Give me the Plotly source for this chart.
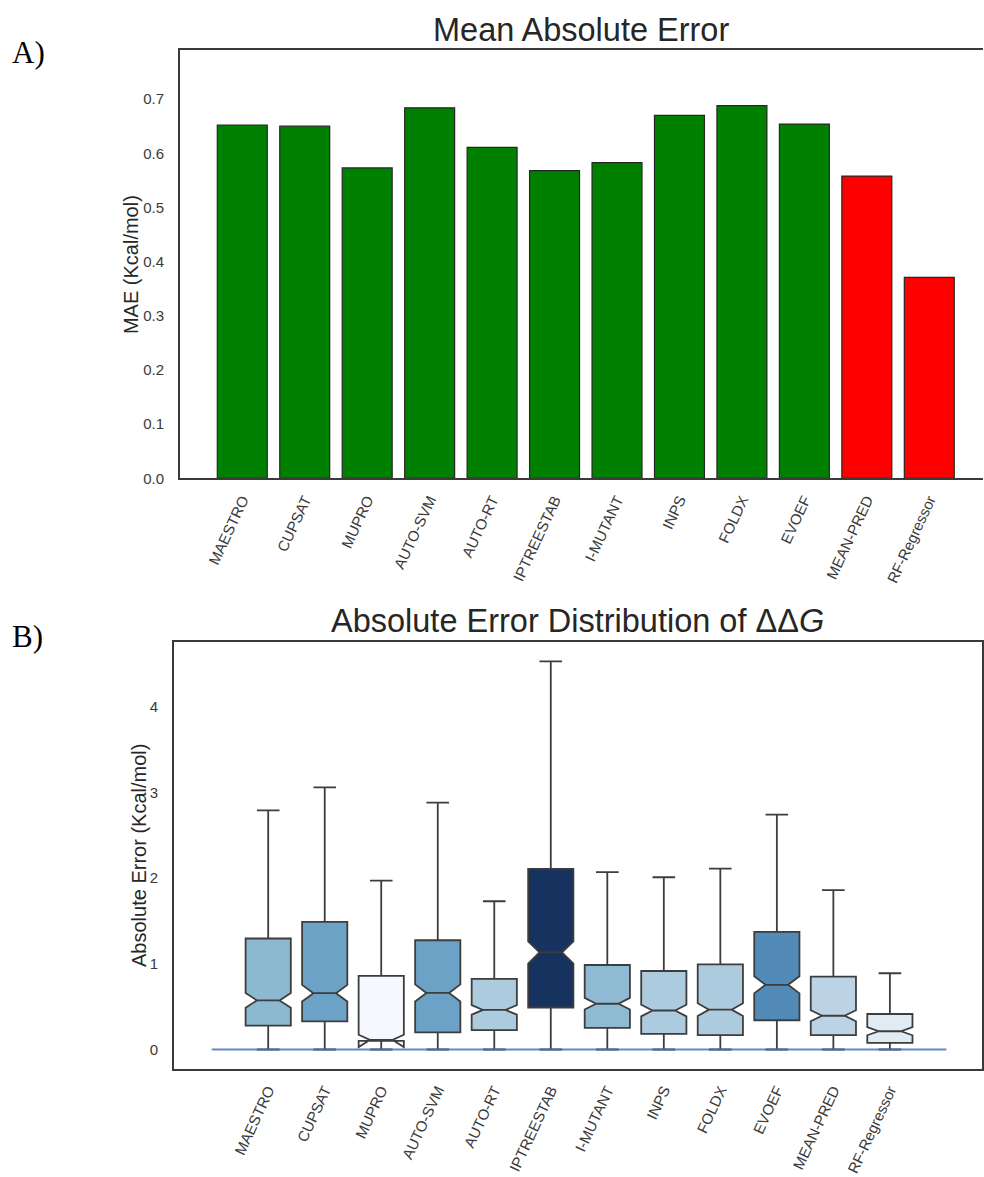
import plotly.graph_objects as go

# ---------------- data ----------------
methods = ["MAESTRO", "CUPSAT", "MUPRO", "AUTO-SVM", "AUTO-RT", "IPTREESTAB",
           "I-MUTANT", "INPS", "FOLDX", "EVOEF", "MEAN-PRED", "RF-Regressor"]

# Panel A: mean absolute error
mae = [0.652, 0.650, 0.573, 0.684, 0.611, 0.568, 0.583, 0.670, 0.688, 0.654, 0.558, 0.371]
bar_colors = ["#008000"] * 10 + ["#ff0000"] * 2

# Panel B: absolute error distribution (box statistics)
q1 = [0.279, 0.329, 0.100, 0.200, 0.225, 0.490, 0.252, 0.182, 0.167, 0.341, 0.167, 0.078]
median = [0.573, 0.657, 0.100, 0.660, 0.462, 1.133, 0.534, 0.455, 0.465, 0.755, 0.394, 0.213]
q3 = [1.295, 1.489, 0.858, 1.275, 0.823, 2.107, 0.986, 0.916, 0.994, 1.373, 0.851, 0.414]
upper_whisker = [2.79, 3.06, 1.97, 2.88, 1.73, 4.53, 2.07, 2.01, 2.11, 2.74, 1.86, 0.89]
lower_whisker = [0.0] * 12
notch_half = [0.087, 0.097, 0.072, 0.100, 0.055, 0.130, 0.068, 0.068, 0.074, 0.100, 0.064, 0.047]
box_colors = ["#8db8d2", "#6ca2c6", "#f5f9fd", "#6ca2c6", "#adcbde", "#16325f",
              "#8fbad4", "#adcbde", "#adcbde", "#528bb8", "#bcd3e6", "#e1ebf4"]

zero_line_x = [-1, 12]
zero_line_y = [0, 0]

positions = list(range(len(methods)))

W, H = 984, 1177
FONT = "Liberation Sans, Arial, sans-serif"
TXT = "#262626"
TICK = "#3a3a3a"
SPINE = "#3a3a3a"


def px_x(p):
    return p / W


def px_y(p):
    return 1 - p / H


fig = go.Figure()

# ---------- Panel A ----------
fig.add_trace(go.Bar(
    x=positions, y=mae, width=0.8,
    marker=dict(color=bar_colors, line=dict(color="#262626", width=1.2)),
    xaxis="x", yaxis="y", showlegend=False,
))

# ---------- Panel B ----------
for i, m in enumerate(methods):
    fig.add_trace(go.Box(
        x=[i], q1=[q1[i]], median=[median[i]], q3=[q3[i]],
        lowerfence=[lower_whisker[i]], upperfence=[upper_whisker[i]],
        notchspan=[notch_half[i]], notched=True, notchwidth=0.25,
        width=0.8, whiskerwidth=0.5,
        fillcolor=box_colors[i],
        line=dict(color="#3d3d3d", width=1.8),
        boxpoints=False, name=m, showlegend=False,
        xaxis="x2", yaxis="y2",
    ))

fig.add_trace(go.Scatter(
    x=zero_line_x, y=zero_line_y, mode="lines",
    line=dict(color="rgba(76,114,196,0.85)", width=1.8),
    xaxis="x2", yaxis="y2", showlegend=False, hoverinfo="skip",
))

axis_common = dict(showgrid=False, zeroline=False, showline=True,
                   linecolor=SPINE, linewidth=1.5, ticks="",
                   tickfont=dict(family=FONT, size=15, color=TICK))

fig.update_layout(
    width=W, height=H,
    margin=dict(l=0, r=0, t=0, b=0),
    paper_bgcolor="white", plot_bgcolor="white",
    font=dict(family=FONT, color=TXT),
    boxmode="overlay",
    bargap=0.2,
    xaxis=dict(domain=[px_x(180), 1.0], range=[-1, 11.86], anchor="y",
               tickmode="array", tickvals=positions, ticktext=methods,
               tickangle=-65, mirror=True, ticklabelstandoff=5, **axis_common),
    yaxis=dict(domain=[px_y(481.7), px_y(50.7)], range=[0, 0.79], anchor="x",
               tickmode="array", tickvals=[0, 0.1, 0.2, 0.3, 0.4, 0.5, 0.6, 0.7],
               tickformat=".1f", ticklabelstandoff=11, mirror=False, **axis_common),
    xaxis2=dict(domain=[px_x(174), px_x(983)], range=[-1.67, 12.63], anchor="y2",
                tickmode="array", tickvals=positions, ticktext=methods,
                tickangle=-65, mirror=True, ticklabelstandoff=5, **axis_common),
    yaxis2=dict(domain=[px_y(1076), px_y(646)], range=[-0.224, 4.76], anchor="x2",
                tickmode="array", tickvals=[0, 1, 2, 3, 4],
                ticklabelstandoff=11, mirror=True, **axis_common),
    annotations=[
        dict(text="Mean Absolute Error", x=px_x(582), y=px_y(30), xref="paper", yref="paper",
             showarrow=False, font=dict(family=FONT, size=32.5, color=TXT),
             xanchor="center", yanchor="middle"),
        dict(text="Absolute Error Distribution of ΔΔ<i>G</i>", x=px_x(578.5), y=px_y(625),
             xref="paper", yref="paper", showarrow=False,
             font=dict(family=FONT, size=32.5, color=TXT), xanchor="center", yanchor="middle"),
        dict(text="MAE (Kcal/mol)", x=px_x(131), y=px_y(266), xref="paper", yref="paper",
             showarrow=False, textangle=-90, font=dict(family=FONT, size=20, color=TXT),
             xanchor="center", yanchor="middle"),
        dict(text="Absolute Error (Kcal/mol)", x=px_x(139), y=px_y(861), xref="paper", yref="paper",
             showarrow=False, textangle=-90, font=dict(family=FONT, size=20, color=TXT),
             xanchor="center", yanchor="middle"),
        dict(text="A)", x=px_x(10), y=px_y(53), xref="paper", yref="paper",
             showarrow=False, font=dict(family="Liberation Serif, Times New Roman, serif", size=31, color="black"),
             xanchor="left", yanchor="middle"),
        dict(text="B)", x=px_x(10), y=px_y(641), xref="paper", yref="paper",
             showarrow=False, font=dict(family="Liberation Serif, Times New Roman, serif", size=31, color="black"),
             xanchor="left", yanchor="middle"),
    ],
)

fig.write_html("out.html")
